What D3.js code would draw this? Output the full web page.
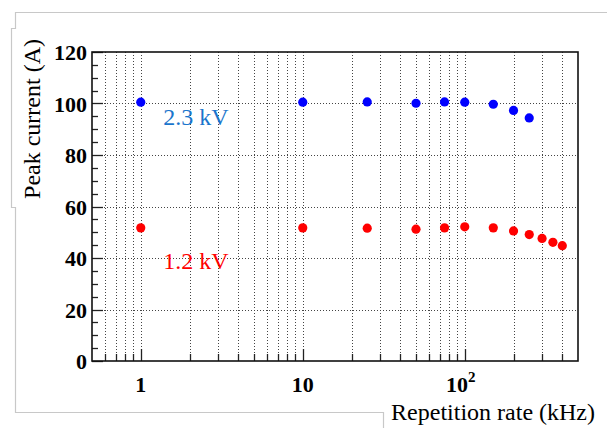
<!DOCTYPE html>
<html>
<head>
<meta charset="utf-8">
<script src="https://cdn.jsdelivr.net/npm/d3@7"></script>
<style>
  html, body { margin: 0; padding: 0; background: #fff; }
  text { font-family: "Liberation Serif", "DejaVu Serif", serif; }
</style>
</head>
<body>
<script>
// repetition rate (kHz)
const rate23 = [1, 10, 25, 50, 75, 100, 150, 200, 250];
const current23 = [100.5, 100.5, 100.6, 100.1, 100.6, 100.5, 99.7, 97.3, 94.4];

const rate12 = [1, 10, 25, 50, 75, 100, 150, 200, 250, 300, 350, 400];
const current12 = [51.7, 51.7, 51.6, 51.2, 51.7, 52.1, 51.7, 50.5, 49.1, 47.6, 46.1, 44.8];

const yTicks = [0, 20, 40, 60, 80, 100, 120];
const xMajor = [1, 10, 100];

const width = 607;
const height = 428;
const margin = {top: 52, right: 29, bottom: 67, left: 92};

const svg = d3.select("body").append("svg")
  .attr("width", width)
  .attr("height", height);

// light grey page frame
svg.append("path")
  .attr("d", "M607,12.5 H15.5 V28.5 H11.5 V207.5 H15.5 V412.5 H383.5 V428")
  .attr("fill", "none")
  .attr("stroke", "#c8c8c8")
  .attr("stroke-width", 1.2);

const x = d3.scaleLog()
  .domain([0.5, 500])
  .range([margin.left, width - margin.right]);

const y = d3.scaleLinear()
  .domain([0, 120])
  .range([height - margin.bottom, margin.top]);

// all log ticks between the edges
const logTicks = [];
[0.1, 1, 10, 100].forEach(dec => {
  for (let k = 1; k <= 9; k++) {
    const v = dec * k;
    if (v > 0.5 + 1e-9 && v < 500 - 1e-9) logTicks.push(v);
  }
});

const grid = svg.append("g")
  .attr("stroke", "#444")
  .attr("stroke-width", 1)
  .attr("stroke-dasharray", "1,2");

grid.selectAll("line.v")
  .data(logTicks)
  .join("line")
  .attr("x1", d => Math.round(x(d)) + 0.5)
  .attr("x2", d => Math.round(x(d)) + 0.5)
  .attr("y1", y(120))
  .attr("y2", y(0));

grid.selectAll("line.h")
  .data(yTicks.filter(d => d > 0 && d < 120))
  .join("line")
  .attr("x1", x(0.5))
  .attr("x2", x(500))
  .attr("y1", d => Math.round(y(d)) + 0.5)
  .attr("y2", d => Math.round(y(d)) + 0.5);

// x ticks (inward)
svg.append("g")
  .attr("stroke", "#222")
  .attr("stroke-width", 1.3)
  .selectAll("line")
  .data(logTicks)
  .join("line")
  .attr("x1", d => Math.round(x(d)) + 0.5)
  .attr("x2", d => Math.round(x(d)) + 0.5)
  .attr("y1", y(0))
  .attr("y2", d => y(0) - (xMajor.includes(d) ? 12 : 7));

// y ticks (inward)
const yMinor = d3.range(0, 121, 5);
svg.append("g")
  .attr("stroke", "#222")
  .attr("stroke-width", 1.3)
  .selectAll("line")
  .data(yMinor)
  .join("line")
  .attr("x1", x(0.5))
  .attr("x2", d => x(0.5) + (d % 20 === 0 ? 11 : 6))
  .attr("y1", d => Math.round(y(d)) + 0.5)
  .attr("y2", d => Math.round(y(d)) + 0.5);

// plot frame
svg.append("rect")
  .attr("x", x(0.5))
  .attr("y", y(120))
  .attr("width", x(500) - x(0.5))
  .attr("height", y(0) - y(120))
  .attr("fill", "none")
  .attr("stroke", "#111")
  .attr("stroke-width", 1.6);

// y tick labels
svg.append("g")
  .selectAll("text")
  .data(yTicks)
  .join("text")
  .attr("x", x(0.5) - 5)
  .attr("y", d => y(d) + 8)
  .attr("text-anchor", "end")
  .attr("font-size", 22)
  .attr("font-weight", "bold")
  .text(d => d);

// x tick labels
const xl = svg.append("g")
  .selectAll("text")
  .data(xMajor)
  .join("text")
  .attr("x", d => x(d) + (d === 100 ? -4 : 0))
  .attr("y", 392)
  .attr("text-anchor", "middle")
  .attr("font-size", 22)
  .attr("font-weight", "bold");

xl.each(function(d) {
  const t = d3.select(this);
  if (d === 100) {
    t.append("tspan").text("10");
    t.append("tspan").attr("font-size", 15).attr("dy", -10).text("2");
  } else {
    t.text(d);
  }
});

// axis titles
svg.append("text")
  .attr("x", 595)
  .attr("y", 420)
  .attr("text-anchor", "end")
  .attr("font-size", 24)
  .text("Repetition rate (kHz)");

svg.append("text")
  .attr("transform", "translate(40,119) rotate(-90)")
  .attr("text-anchor", "middle")
  .attr("font-size", 24)
  .text("Peak current (A)");

// points
svg.append("g")
  .selectAll("circle")
  .data(rate23.map((r, i) => [r, current23[i]]))
  .join("circle")
  .attr("cx", d => x(d[0]))
  .attr("cy", d => y(d[1]))
  .attr("r", 4.6)
  .attr("fill", "#0000ff");

svg.append("g")
  .selectAll("circle")
  .data(rate12.map((r, i) => [r, current12[i]]))
  .join("circle")
  .attr("cx", d => x(d[0]))
  .attr("cy", d => y(d[1]))
  .attr("r", 4.6)
  .attr("fill", "#ff0000");

// series labels
svg.append("text")
  .attr("x", x(1.375))
  .attr("y", y(91.6))
  .attr("font-size", 24)
  .attr("fill", "#1a75cc")
  .text("2.3 kV");

svg.append("text")
  .attr("x", x(1.375))
  .attr("y", y(35.7))
  .attr("font-size", 24)
  .attr("fill", "#ff0000")
  .text("1.2 kV");
</script>
</body>
</html>
